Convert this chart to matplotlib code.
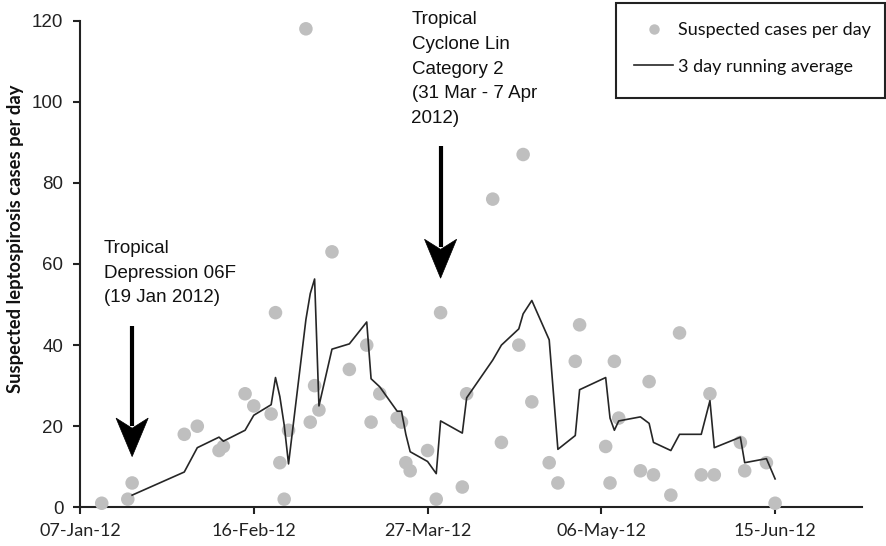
import matplotlib
matplotlib.use("Agg")
import matplotlib.pyplot as plt
import matplotlib.dates as mdates
from matplotlib.patches import Polygon, Rectangle
from matplotlib.lines import Line2D
import pandas as pd

# ---- data ----
dates = ["2012-01-12", "2012-01-18", "2012-01-19", "2012-01-31", "2012-02-03",
         "2012-02-08", "2012-02-09", "2012-02-14", "2012-02-16", "2012-02-20",
         "2012-02-21", "2012-02-22", "2012-02-23", "2012-02-24", "2012-02-28",
         "2012-02-29", "2012-03-01", "2012-03-02", "2012-03-05", "2012-03-09",
         "2012-03-13", "2012-03-14", "2012-03-16", "2012-03-20", "2012-03-21",
         "2012-03-22", "2012-03-23", "2012-03-27", "2012-03-29", "2012-03-30",
         "2012-04-04", "2012-04-05", "2012-04-11", "2012-04-13", "2012-04-17",
         "2012-04-18", "2012-04-20", "2012-04-24", "2012-04-26", "2012-04-30",
         "2012-05-01", "2012-05-07", "2012-05-08", "2012-05-09", "2012-05-10",
         "2012-05-15", "2012-05-17", "2012-05-18", "2012-05-22", "2012-05-24",
         "2012-05-29", "2012-05-31", "2012-06-01", "2012-06-07", "2012-06-08",
         "2012-06-13", "2012-06-15"]
cases = [1, 2, 6, 18, 20, 14, 15, 28, 25, 23,
         48, 11, 2, 19, 118, 21, 30, 24, 63, 34,
         40, 21, 28, 22, 21, 11, 9, 14, 2, 48,
         5, 28, 76, 16, 40, 87, 26, 11, 6, 36,
         45, 15, 6, 36, 22, 9, 31, 8, 3, 43,
         8, 28, 8, 16, 9, 11, 1]
# 3 day running average (starts at the third observation)
running_avg = [3.0, 8.7, 14.7, 17.3, 16.3, 19.0, 22.7, 25.3, 32.0, 27.3,
               20.3, 10.7, 46.3, 52.7, 56.3, 25.0, 39.0, 40.3, 45.7, 31.7,
               29.7, 23.7, 23.7, 18.0, 13.7, 11.3, 8.3, 21.3, 18.3, 27.0,
               36.3, 40.0, 44.0, 47.7, 51.0, 41.3, 14.3, 17.7, 29.0, 32.0,
               22.0, 19.0, 21.3, 22.3, 20.7, 16.0, 14.0, 18.0, 18.0, 26.3,
               14.7, 17.3, 11.0, 12.0, 7.0]
tick_dates = ["2012-01-07", "2012-02-16", "2012-03-27", "2012-05-06", "2012-06-15"]
x_start, x_end = "2012-01-07", "2012-07-05"
y_ticks = [0, 20, 40, 60, 80, 100, 120]
ylabel = "Suspected leptospirosis cases per day"
legend_labels = ["Suspected cases per day", "3 day running average"]
event1_date, event1_text = "2012-01-19", "Tropical\nDepression 06F\n(19 Jan 2012)"
event2_date, event2_text = "2012-03-30", "Tropical\nCyclone Lin\nCategory 2\n(31 Mar - 7 Apr\n2012)"

W, H = 886, 546
fig = plt.figure(figsize=(W / 100, H / 100), dpi=100)
ax = fig.add_axes([80 / W, 1 - 507.3 / H, (862 - 80) / W, (507.3 - 20.7) / H])

x = mdates.date2num(pd.to_datetime(dates))
ax.scatter(x, cases, s=95, color="#BFBFBF", edgecolors="none", zorder=3, clip_on=False,
           label=legend_labels[0])
ax.plot(x[2:], running_avg, color="#262626", lw=1.2, zorder=4, label=legend_labels[1])

ax.set_xlim(mdates.date2num(pd.Timestamp(x_start)), mdates.date2num(pd.Timestamp(x_end)))
ax.set_ylim(0, 120)
ax.set_xticks(mdates.date2num(pd.to_datetime(tick_dates)))
ax.xaxis.set_major_formatter(mdates.DateFormatter("%d-%b-%y"))
ax.set_yticks(y_ticks)

for s in ["top", "right"]:
    ax.spines[s].set_visible(False)
for s in ["left", "bottom"]:
    ax.spines[s].set_linewidth(1.5)
    ax.spines[s].set_color("#222222")
ax.tick_params(axis="both", direction="out", length=5, width=1.5, color="#222222")
ax.tick_params(axis="y", pad=7)
ax.tick_params(axis="x", pad=6)
for lab in ax.get_yticklabels():
    lab.set_fontfamily("Liberation Sans")
    lab.set_fontsize(13.5)
    lab.set_color("#222222")
for lab in ax.get_xticklabels():
    lab.set_fontfamily("Lato")
    lab.set_fontsize(13)
    lab.set_color("#222222")

fig.text(16 / W, 1 - 239 / H, ylabel, rotation=90, ha="center", va="center",
         fontfamily="Lato", fontweight="bold", fontsize=13.2, color="#111111")

# event arrows (data coordinates)
def draw_arrow(date, y_tail, y_base, y_notch, y_tip, half_w_days):
    xc = mdates.date2num(pd.Timestamp(date))
    ax.plot([xc, xc], [y_tail, y_notch + 0.5], color="black", lw=3, solid_capstyle="butt",
            zorder=5, clip_on=False)
    head = Polygon([[xc - half_w_days, y_base], [xc, y_notch], [xc + half_w_days, y_base],
                    [xc, y_tip]], closed=True, facecolor="black", edgecolor="black",
                   lw=0.5, zorder=5, clip_on=False)
    ax.add_patch(head)

draw_arrow(event1_date, 44.8, 22.0, 19.5, 12.5, 3.7)
draw_arrow(event2_date, 89.0, 66.1, 63.6, 56.5, 3.7)

fig.text(104 / W, 1 - 240 / H, event1_text, ha="left", va="top", fontfamily="Liberation Sans",
         fontsize=13.5, linespacing=1.58, color="#111111")
fig.text(411.5 / W, 1 - 11.5 / H, event2_text, ha="left", va="top", fontfamily="Liberation Sans",
         fontsize=13.5, linespacing=1.58, color="#111111")

# legend
fig.patches.append(Rectangle((616 / W, 1 - 98 / H), 269 / W, 95 / H, transform=fig.transFigure,
                             facecolor="white", edgecolor="#222222", lw=1.5, zorder=1))
handles = [Line2D([], [], marker="o", ls="none", markersize=7.5, markerfacecolor="#BFBFBF",
                  markeredgecolor="none"),
           Line2D([], [], color="#262626", lw=1.2)]
leg = fig.legend(handles, legend_labels, loc="upper left",
                 bbox_to_anchor=(619.5 / W, 1 - 8 / H), frameon=False,
                 prop={"family": "Lato", "size": 13}, handlelength=2.17, handletextpad=0.28,
                 labelspacing=1.12, borderpad=0.3)
for t in leg.get_texts():
    t.set_color("#111111")

fig.savefig("out.png", dpi=100)
